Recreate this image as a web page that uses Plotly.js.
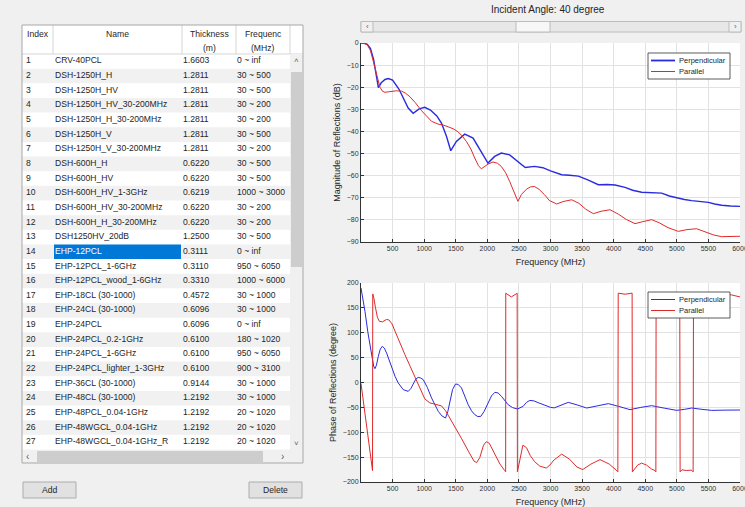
<!DOCTYPE html>
<html><head><meta charset="utf-8">
<script src="https://cdn.plot.ly/plotly-3.0.1.min.js"></script>
<style>html,body{margin:0;padding:0;background:#f0f0f0;overflow:hidden;} #chart{width:745px;height:507px;}</style>
</head><body><div id="chart"></div>
<script>
// ---------- table data ----------
const tableIndex = [1,2,3,4,5,6,7,8,9,10,11,12,13,14,15,16,17,18,19,20,21,22,23,24,25,26,27];
const tableName = ['CRV-40PCL','DSH-1250H_H','DSH-1250H_HV','DSH-1250H_HV_30-200MHz','DSH-1250H_H_30-200MHz','DSH-1250H_V','DSH-1250H_V_30-200MHz','DSH-600H_H','DSH-600H_HV','DSH-600H_HV_1-3GHz','DSH-600H_HV_30-200MHz','DSH-600H_H_30-200MHz','DSH1250HV_20dB','EHP-12PCL','EHP-12PCL_1-6GHz','EHP-12PCL_wood_1-6GHz','EHP-18CL (30-1000)','EHP-24CL (30-1000)','EHP-24PCL','EHP-24PCL_0.2-1GHz','EHP-24PCL_1-6GHz','EHP-24PCL_lighter_1-3GHz','EHP-36CL (30-1000)','EHP-48CL (30-1000)','EHP-48PCL_0.04-1GHz','EHP-48WGCL_0.04-1GHz','EHP-48WGCL_0.04-1GHz_R'];
const tableThickness = ['1.6603','1.2811','1.2811','1.2811','1.2811','1.2811','1.2811','0.6220','0.6220','0.6219','0.6220','0.6220','1.2500','0.3111','0.3110','0.3310','0.4572','0.6096','0.6096','0.6100','0.6100','0.6100','0.9144','1.2192','1.2192','1.2192','1.2192'];
const tableFreq = ['0 ~ inf','30 ~ 500','30 ~ 500','30 ~ 200','30 ~ 200','30 ~ 500','30 ~ 200','30 ~ 500','30 ~ 500','1000 ~ 3000','30 ~ 200','30 ~ 200','30 ~ 500','0 ~ inf','950 ~ 6050','1000 ~ 6000','30 ~ 1000','30 ~ 1000','0 ~ inf','180 ~ 1020','950 ~ 6050','900 ~ 3100','30 ~ 1000','30 ~ 1000','20 ~ 1020','20 ~ 1020','20 ~ 1020'];
const tableHeaders = ['Index','Name','Thickness<br>(m)','Frequenc<br>(MHz)'];
const selectedRow = 14;

// ---------- magnitude (dB) ----------
const magPerpFreq = [0,50,100,150,200,240,275,320,380,432,500,600,700,747,826,920,1010,1100,1200,1274,1353,1421,1510,1642,1774,1905,2010,2116,2221,2353,2484,2600,2747,2879,3000,3177,3300,3441,3600,3757,3900,4021,4180,4300,4443,4600,4760,4880,4998,5120,5235,5380,5499,5600,5710,5850,6000];
const magPerpDb   = [0,-0.1,-0.6,-2.5,-7.5,-13.5,-20.2,-18,-16.5,-16.1,-16.8,-20.8,-26.5,-29.4,-31.8,-29.8,-29.1,-30.3,-33,-36.2,-42.2,-48.7,-44.5,-41.2,-43,-49,-54.3,-51.3,-49.8,-50.6,-53.5,-56.3,-55.8,-56.4,-57.8,-59.6,-59.8,-60.2,-62,-64.1,-64,-64.2,-65.3,-66.6,-67.5,-67.6,-67.9,-69.2,-70.1,-70.8,-71.3,-71.6,-72.1,-72.8,-73.4,-73.7,-73.9];
const magParFreq = [0,50,100,150,195,221,260,300,340,379,430,484,560,642,700,774,860,958,1040,1116,1221,1300,1379,1460,1537,1600,1668,1740,1800,1860,1905,1960,2010,2089,2160,2221,2290,2353,2420,2484,2540,2616,2680,2747,2820,2905,2980,3098,3200,3335,3450,3560,3679,3800,3942,4080,4200,4338,4460,4602,4720,4860,5024,5160,5314,5440,5580,5710,5850,6000];
const magParDb   = [0,-0.1,-0.8,-3.5,-8.3,-11.3,-16.5,-20,-21.8,-22.3,-22.1,-21.9,-21.6,-21.8,-22.6,-24.3,-27,-30.6,-33.3,-35.4,-36.7,-37.1,-37.9,-38.8,-40.2,-42,-44.5,-48,-52,-55.5,-56.9,-55.7,-54.8,-53.8,-54.4,-55.8,-58.7,-62.6,-67.5,-71.6,-68.5,-66.2,-65.1,-64.9,-66.2,-68.6,-71.2,-72.8,-71.7,-70.9,-72.5,-75.2,-77.2,-76.1,-75.4,-77.5,-79.8,-81.7,-80.8,-79.9,-81.3,-83.5,-85.2,-84.4,-84,-85.3,-86.8,-87.6,-87.5,-87.4];

// ---------- phase (degree) ----------
const phasePerpFreq = [0,30,63,110,169,200,221,245,274,305,337,370,406,445,485,540,590,669,748,790,827,870,906,945,985,1050,1117,1170,1223,1280,1338,1375,1407,1450,1497,1540,1591,1640,1697,1750,1802,1850,1897,1950,2013,2065,2119,2170,2224,2280,2329,2400,2477,2566,2620,2672,2740,2804,2913,3000,3060,3170,3282,3420,3573,3740,3916,4080,4258,4430,4601,4800,4998,5120,5235,5400,5552,5780,6000];
const phasePerpDeg  = [190,168,143,100,52.6,33,27.8,35,52.6,67,72.7,69,59,45,29,12,-1,-14.4,-17.8,-12,-3,7,10.4,9,5.7,-10,-31,-46,-58,-67,-71.4,-58,-37.9,-14,-3,-4,-11,-27,-44.6,-57,-64.7,-68.5,-68,-58,-41.2,-27,-19.8,-21,-27.8,-37,-44.6,-50.5,-53.3,-47.9,-40,-36,-37,-40.5,-45.9,-50,-51,-45,-39.9,-45,-51.3,-47,-42.5,-48,-54.6,-50,-46.6,-51.5,-56,-54,-51.3,-54,-56,-55.5,-55.3];
const phaseParFreq = [0,60,120,170,182,186,200,230,260,290,340,400,440,490,537,600,695,780,853,930,1010,1090,1168,1230,1274,1340,1405,1500,1589,1700,1789,1830,1880,1940,1984,2030,2100,2200,2274,2290,2292,2310,2380,2455,2472,2476,2490,2530,2563,2620,2680,2747,2830,2932,2990,3053,3177,3300,3420,3510,3640,3784,3930,4040,4066,4072,4100,4180,4260,4292,4296,4320,4380,4443,4520,4600,4654,4668,4672,4750,4860,4960,5046,5052,5080,5156,5230,5258,5264,5400,5600,5760,5868,6000];
const phaseParDeg  = [-2,-58,-116,-165,-177,178,172,150,131,123,122,126.5,126,118,103,84,56,32,12,-12,-33,-41,-43,-45,-47,-57,-71,-93,-112,-138,-158,-161,-151,-126,-119,-122,-139,-164,-177,-179.5,179.5,178,172,178,179.5,-179.5,-171,-141,-126,-131,-147,-159,-168,-172,-166,-156,-144,-154,-170,-175,-164,-155,-164,-176,-179.5,179.5,179,177.5,179,179.7,-179.7,-176,-166,-162,-166,-174,-177,-179.6,179.6,177,175,177,179.6,-179.6,-175.5,-177,-176,-179.6,179.6,179,178.5,177.5,176,172];

const seriesNames = ['Perpendicular','Parallel'];
const xTicks = [500,1000,1500,2000,2500,3000,3500,4000,4500,5000,5500,6000];
const magTicks = [0,-10,-20,-30,-40,-50,-60,-70,-80,-90];
const phaseTicks = [200,150,100,50,0,-50,-100,-150,-200];

// ---------- helpers ----------
const W = 745, H = 507;
const X = px => px / W;
const Y = py => 1 - py / H;
const BLUE = '#2a2ae0', RED = '#e02a2a';
const FONT = 'Liberation Sans, Arial, sans-serif';
const TXT = '#262626';
const shapes = [];
const ann = [];
function rect(x0, y0, x1, y1, fill, line, lw, layer) {
  shapes.push({type:'rect', xref:'paper', yref:'paper', x0:X(x0), x1:X(x1), y0:Y(y1), y1:Y(y0),
    fillcolor:fill, line:{color:line, width:(lw===undefined?1:lw)}, layer:layer||'above'});
}
function seg(x0, y0, x1, y1, color, lw) {
  shapes.push({type:'line', xref:'paper', yref:'paper', x0:X(x0), x1:X(x1), y0:Y(y0), y1:Y(y1),
    line:{color:color, width:lw}, layer:'above'});
}
function text(px, py, t, size, anchor, color) {
  ann.push({xref:'paper', yref:'paper', x:X(px), y:Y(py), text:t, showarrow:false,
    xanchor:anchor||'center', yanchor:'middle', font:{size:size, family:FONT, color:color||TXT}});
}

// ---------- table (drawn on its own hidden axes: x in px inside table, y = row number) ----------
const TBL_L = 22, TBL_R = 290, TBL_TOP = 54, TBL_BOT = 449.5;
const colStart = [0, 31, 160, 214];
const colText = [4, 33, 161, 215];
const nRows = tableName.length;
const traces = [];
const cellFont = 8.6;
const colVals = [tableIndex.map(String), tableName, tableThickness, tableFreq];
colVals.forEach((vals, c) => {
  traces.push({type:'scatter', mode:'text', xaxis:'x3', yaxis:'y3',
    x: vals.map(() => colText[c]), y: tableIndex, text: vals,
    textposition:'middle right', cliponaxis:false, hoverinfo:'skip', showlegend:false,
    textfont:{family:FONT, size:cellFont,
      color: vals.map((_, i) => (c === 1 && tableIndex[i] === selectedRow) ? '#ffffff' : TXT)}});
});
tableIndex.forEach(r => {
  if (r % 2 === 0) shapes.push({type:'rect', xref:'x3', yref:'y3', x0:0, x1:268, y0:r-0.5, y1:r+0.5,
    fillcolor:'#f1f1f1', line:{width:0}, layer:'below'});
});
shapes.push({type:'rect', xref:'x3', yref:'y3', x0:colStart[1]+1, x1:colStart[2]-1,
  y0:selectedRow-0.5, y1:selectedRow+0.5, fillcolor:'#0078d7', line:{width:0}, layer:'below'});

// ---------- curves ----------
traces.push({type:'scatter', mode:'lines', x:magPerpFreq, y:magPerpDb, name:seriesNames[0],
  line:{color:BLUE, width:1.4}, xaxis:'x', yaxis:'y', showlegend:false});
traces.push({type:'scatter', mode:'lines', x:magParFreq, y:magParDb, name:seriesNames[1],
  line:{color:RED, width:1}, xaxis:'x', yaxis:'y', showlegend:false});
traces.push({type:'scatter', mode:'lines', x:phasePerpFreq, y:phasePerpDeg, name:seriesNames[0],
  line:{color:BLUE, width:1}, xaxis:'x2', yaxis:'y2', showlegend:false});
traces.push({type:'scatter', mode:'lines', x:phaseParFreq, y:phaseParDeg, name:seriesNames[1],
  line:{color:RED, width:1}, xaxis:'x2', yaxis:'y2', showlegend:false});

// ---------- table chrome ----------
rect(22, 25, 303, TBL_TOP, '#ffffff', 'rgba(0,0,0,0)', 0);
seg(22, TBL_TOP, 303, TBL_TOP, '#d5d5d5', 1);
[53, 182, 236, 290].forEach(x => seg(x, 25, x, TBL_TOP, '#d5d5d5', 1));
const headerCenters = [37.5, 117.5, 209, 263];
tableHeaders.forEach((h, i) => {
  const parts = h.split('<br>');
  text(headerCenters[i], 34, parts[0], cellFont);
  if (parts[1]) text(headerCenters[i], 48, parts[1], cellFont);
});
rect(290, TBL_TOP, 303, 450, '#f0f0f0', 'rgba(0,0,0,0)', 0);
rect(291, 72, 302, 267, '#cdcdcd', 'rgba(0,0,0,0)', 0);
text(296.5, 61, '˄', 8, 'center', '#606060');
text(296.5, 443, '˅', 8, 'center', '#606060');
rect(22, 450, 303, 463, '#f0f0f0', 'rgba(0,0,0,0)', 0);
rect(37, 451, 263, 462, '#cdcdcd', 'rgba(0,0,0,0)', 0);
text(28, 456, '‹', 10, 'center', '#606060');
text(282, 456, '›', 10, 'center', '#606060');
rect(22, 25, 303, 463, 'rgba(0,0,0,0)', '#a8a8a8', 1);

// buttons
rect(23, 482, 76, 498, '#e1e1e1', '#adadad', 1);
text(49.5, 490, 'Add', 8.6);
rect(249, 482, 302, 498, '#e1e1e1', '#adadad', 1);
text(275.5, 490, 'Delete', 8.6);

// slider + title
text(548, 10, 'Incident Angle: 40 degree', 10);
rect(361, 21.5, 741, 32, '#e7e7e7', '#bcbcbc', 1);
rect(361, 21.5, 373, 32, '#f0f0f0', '#bcbcbc', 1);
rect(729, 21.5, 741, 32, '#f0f0f0', '#bcbcbc', 1);
rect(516, 21.5, 550, 32, '#f7f7f7', '#bcbcbc', 1);
text(367, 26.5, '‹', 8, 'center', '#606060');
text(735, 26.5, '›', 8, 'center', '#606060');

// legends (drawn MATLAB style)
function legend(top, blueW) {
  rect(648, top, 730, top + 26, '#ffffff', '#333333', 0.8);
  seg(651, top + 7.5, 675, top + 7.5, BLUE, blueW);
  text(677, top + 7.5, seriesNames[0], 7.5, 'left');
  seg(651, top + 18.5, 675, top + 18.5, RED, 1);
  text(677, top + 18.5, seriesNames[1], 7.5, 'left');
}
legend(53, 1.8);
legend(292, 1);

// ---------- axes ----------
function xAxis(anchor) {
  return {domain:[X(361), X(740)], anchor:anchor, range:[0,6000], tickvals:xTicks,
    showgrid:true, gridcolor:'#e2e2e2', gridwidth:1, zeroline:false, ticklabeloverflow:'allow',
    showline:true, linecolor:'#333333', linewidth:1, ticks:'inside', ticklen:3, tickcolor:'#333333',
    tickfont:{size:7, family:FONT, color:'#333333'},
    title:{text:'Frequency (MHz)', font:{size:9, family:FONT, color:TXT}, standoff:7}};
}
function yAxis(domain, anchor, range, tickvals, title) {
  return {domain:domain, anchor:anchor, range:range, tickvals:tickvals,
    showgrid:true, gridcolor:'#e2e2e2', gridwidth:1, zeroline:false,
    showline:true, linecolor:'#333333', linewidth:1, ticks:'inside', ticklen:3, tickcolor:'#333333',
    tickfont:{size:7, family:FONT, color:'#333333'},
    title:{text:title, font:{size:9, family:FONT, color:TXT}, standoff:4}};
}

const layout = {
  width:W, height:H, autosize:false,
  margin:{l:0, r:0, t:0, b:0, pad:0},
  paper_bgcolor:'#f0f0f0', plot_bgcolor:'#ffffff',
  font:{family:FONT, color:TXT},
  showlegend:false,
  xaxis:xAxis('y'),
  yaxis:yAxis([Y(242), Y(43)], 'x', [-90,0], magTicks, 'Magnitude of Reflections (dB)'),
  xaxis2:xAxis('y2'),
  yaxis2:yAxis([Y(482), Y(283)], 'x2', [-200,200], phaseTicks, 'Phase of Reflections (degree)'),
  xaxis3:{domain:[X(TBL_L), X(TBL_R)], anchor:'y3', range:[0, TBL_R - TBL_L], visible:false, fixedrange:true},
  yaxis3:{domain:[Y(TBL_BOT), Y(TBL_TOP)], anchor:'x3', range:[nRows + 0.5, 0.5], visible:false, fixedrange:true},
  shapes:shapes, annotations:ann
};

Plotly.newPlot('chart', traces, layout, {displayModeBar:false, staticPlot:true});
</script></body></html>
